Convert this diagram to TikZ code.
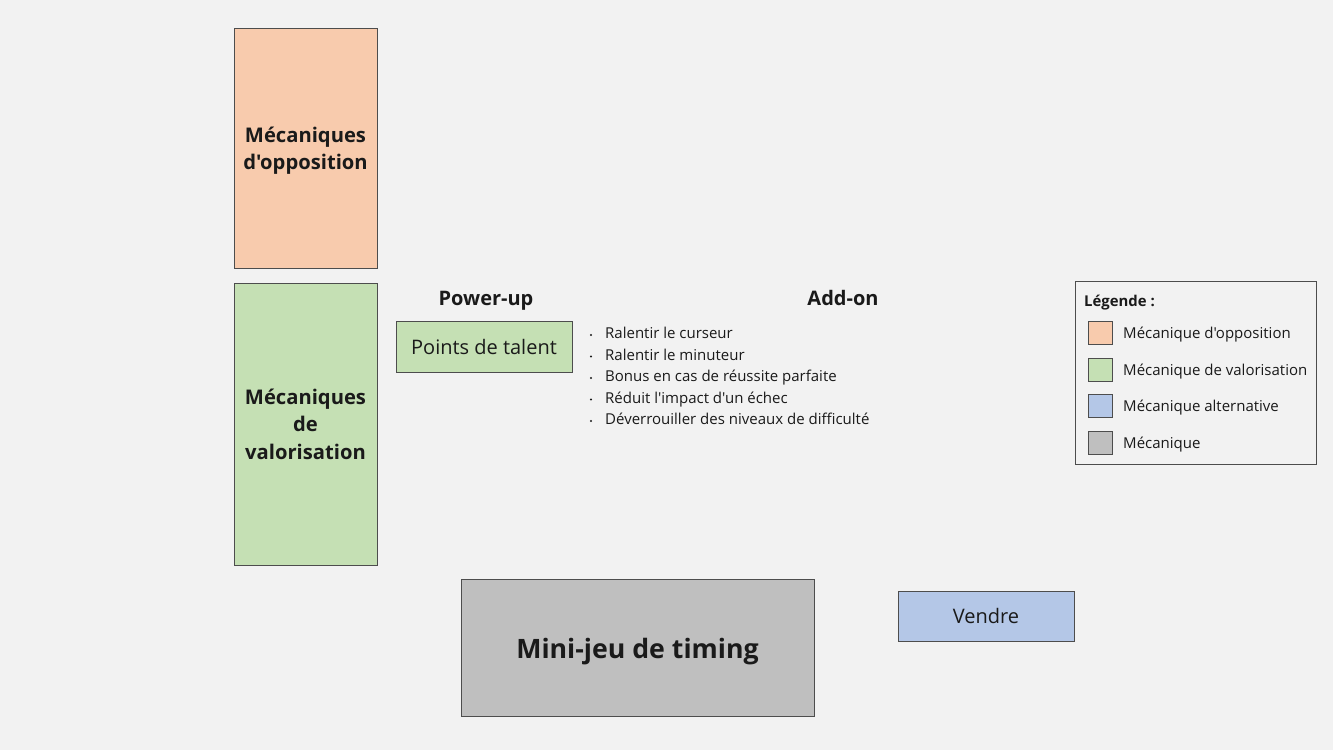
\documentclass[tikz,border=0pt]{standalone}
\usepackage{fontspec}
\setmainfont{Open Sans}[Ligatures=TeXOff]
\definecolor{bg}{HTML}{F2F2F2}
\definecolor{orangef}{HTML}{F8CBAD}
\definecolor{greenf}{HTML}{C5E0B4}
\definecolor{bluef}{HTML}{B4C7E7}
\definecolor{grayf}{HTML}{BFBFBF}
\definecolor{edge}{HTML}{4D4D4D}
\definecolor{txt}{HTML}{1A1A1A}
\begin{document}
\begin{tikzpicture}[x=1pt,y=-1pt,
  box/.style={draw=edge,line width=0.9pt,inner sep=0pt,text=txt,align=center},
  lbl/.style={inner sep=0pt,text=txt,align=center},
  item/.style={anchor=west,inner sep=0pt,text=txt,text height=11pt,text depth=4pt,font=\fontsize{15}{17}\selectfont},
  bul/.style={circle,fill=txt,inner sep=0pt,minimum size=2.2pt},
  leg/.style={draw=edge,line width=0.9pt,minimum width=24pt,minimum height=23pt,inner sep=0pt},
  title/.style={inner sep=0pt,text=txt,text height=14pt,text depth=5pt,font=\fontsize{20}{24}\selectfont\bfseries}]
\fill[bg] (0,0) rectangle (1333,750);
\useasboundingbox (0,0) rectangle (1333,750);
% main boxes
\node[box,fill=orangef,minimum width=143pt,minimum height=240pt] (opp) at (305.5,148) {};
\node[lbl,font=\fontsize{20.2}{27}\selectfont\bfseries] (oppt) at (305.5,151) {Mécaniques\\d'opposition};
\node[box,fill=greenf,minimum width=143pt,minimum height=282pt,font=\fontsize{20.2}{27.5}\selectfont\bfseries] (val) at (305.5,424) {Mécaniques\\de\\valorisation};
\node[title] (pu) at (486,301) {Power-up};
\node[title] (ao) at (843,301) {Add-on};
\node[box,fill=greenf,minimum width=176pt,minimum height=51pt,font=\fontsize{20}{24}\selectfont] (pts) at (484,346.5) {Points de talent};
% list
\node[item] (i1) at (605,335) {Ralentir le curseur};
\node[item] (i2) at (605,356.5) {Ralentir le minuteur};
\node[item] (i3) at (605,378) {Bonus en cas de réussite parfaite};
\node[item] (i4) at (605,399.5) {Réduit l'impact d'un échec};
\node[item] (i5) at (605,421) {Déverrouiller des niveaux de difficulté};
\foreach \i in {1,...,5} \node[bul] (b\i) at ([xshift=-14pt]i\i.west) {};
% bottom
\node[box,fill=grayf,minimum width=353pt,minimum height=137pt] (mini) at (637.5,647.5) {};
\node[lbl,font=\fontsize{26.7}{32}\selectfont\bfseries] (minit) at (637.5,651.5) {Mini-jeu de timing};
\node[box,fill=bluef,minimum width=176pt,minimum height=50pt,font=\fontsize{20}{24}\selectfont] (vendre) at (986,616) {Vendre};
% legend
\node[draw=edge,line width=0.9pt,fill=bg,minimum width=241pt,minimum height=183pt,inner sep=0pt] (legend) at (1195.5,372.5) {};
\node[anchor=west,inner sep=0pt,text=txt,text height=11pt,text depth=4pt,font=\fontsize{14.9}{17}\selectfont\bfseries] (lt) at (1084,303) {Légende :};
\node[leg,fill=orangef] (l1) at (1100,332.5) {};
\node[leg,fill=greenf] (l2) at (1100,369.5) {};
\node[leg,fill=bluef] (l3) at (1100,406) {};
\node[leg,fill=grayf] (l4) at (1100,443) {};
\node[item] (t1) at (1123,334.5) {Mécanique d'opposition};
\node[item] (t2) at (1123,371.5) {Mécanique de valorisation};
\node[item] (t3) at (1123,408) {Mécanique alternative};
\node[item] (t4) at (1123,445) {Mécanique};
\end{tikzpicture}
\end{document}
